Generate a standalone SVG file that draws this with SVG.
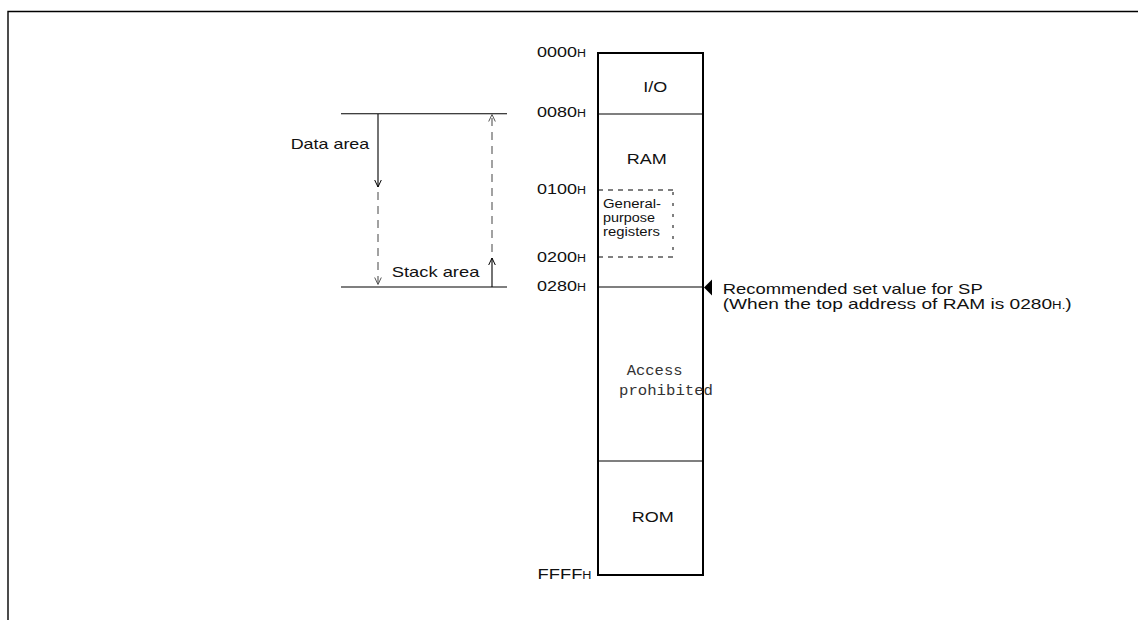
<svg xmlns="http://www.w3.org/2000/svg" width="1138" height="620" viewBox="0 0 1138 620">
<style>
  .t { font-family: "Liberation Sans", Arial, sans-serif; font-size: 14.5px; fill: #111; }
  .s { font-size: 10px; }
  .g { font-family: "Liberation Sans", Arial, sans-serif; font-size: 12px; fill: #111; }
  .m { font-family: "Liberation Mono", "Courier New", monospace; font-size: 15.5px; fill: #333; }
  .box { fill: #fff; stroke: #000; stroke-width: 2; }
  .div { stroke: #000; stroke-width: 1.2; fill: none; }
  .thin { stroke: #000; stroke-width: 1.1; fill: none; }
  .dash { stroke: #555; stroke-width: 1.1; fill: none; stroke-dasharray: 8 6; }
  .gdash { stroke: #000; stroke-width: 1; fill: none; stroke-dasharray: 5 5; }
  .gdot { stroke: #000; stroke-width: 1; fill: none; stroke-dasharray: 3 8; }
</style>
<defs>
  <marker id="chev" markerUnits="userSpaceOnUse" markerWidth="12" markerHeight="12" refX="0" refY="0" orient="auto" overflow="visible">
    <path d="M-7,-3.3 L0,0 L-7,3.3" fill="none" stroke="#000" stroke-width="1"/>
  </marker>
  <marker id="chevg" markerUnits="userSpaceOnUse" markerWidth="12" markerHeight="12" refX="0" refY="0" orient="auto" overflow="visible">
    <path d="M-7,-3.3 L0,0 L-7,3.3" fill="none" stroke="#555" stroke-width="1"/>
  </marker>
</defs>
<rect width="1138" height="620" fill="#fff"/>

<g id="frame">
  <path d="M8,620 L8,11.5 L1138,11.5" fill="none" stroke="#000" stroke-width="1.4"/>
</g>

<g id="memory-map">
  <rect class="box" x="598" y="53" width="105" height="522"/>
  <g id="io">
    <text class="t" x="643.3" y="92" textLength="24" lengthAdjust="spacingAndGlyphs">I/O</text>
  </g>
  <line class="div" x1="598" y1="114" x2="703" y2="114"/>
  <g id="ram">
    <text class="t" x="626.7" y="163.5" textLength="40" lengthAdjust="spacingAndGlyphs">RAM</text>
  </g>
  <g id="general-purpose-registers">
    <path class="gdash" d="M598,190 L673,190 M673,257 L598,257"/>
    <path class="gdot" d="M673,192 L673,257"/>
    <text class="g" x="603" y="207.5" textLength="58" lengthAdjust="spacingAndGlyphs">General-</text>
    <text class="g" x="603" y="221.5" textLength="52" lengthAdjust="spacingAndGlyphs">purpose</text>
    <text class="g" x="603" y="235.5" textLength="57" lengthAdjust="spacingAndGlyphs">registers</text>
  </g>
  <line class="div" x1="598" y1="287" x2="703" y2="287"/>
  <g id="access-prohibited">
    <text class="m" x="626.7" y="375">Access</text>
    <text class="m" x="619" y="395" textLength="94" lengthAdjust="spacingAndGlyphs">prohibited</text>
  </g>
  <line class="div" x1="598" y1="461" x2="703" y2="461"/>
  <g id="rom">
    <text class="t" x="631.7" y="521.7" textLength="42" lengthAdjust="spacingAndGlyphs">ROM</text>
  </g>
</g>

<g id="addresses">
  <text class="t" x="537" y="57" textLength="49" lengthAdjust="spacingAndGlyphs">0000<tspan class="s">H</tspan></text>
  <text class="t" x="537" y="117" textLength="49" lengthAdjust="spacingAndGlyphs">0080<tspan class="s">H</tspan></text>
  <text class="t" x="537" y="194" textLength="49" lengthAdjust="spacingAndGlyphs">0100<tspan class="s">H</tspan></text>
  <text class="t" x="537" y="261.5" textLength="49" lengthAdjust="spacingAndGlyphs">0200<tspan class="s">H</tspan></text>
  <text class="t" x="537" y="291" textLength="49" lengthAdjust="spacingAndGlyphs">0280<tspan class="s">H</tspan></text>
  <text class="t" x="537.5" y="578.5" textLength="54" lengthAdjust="spacingAndGlyphs">FFFF<tspan class="s">H</tspan></text>
</g>

<g id="stack-layout">
  <line class="thin" x1="341" y1="113.7" x2="507" y2="113.7"/>
  <line class="thin" x1="341" y1="287" x2="507" y2="287"/>
  <text class="t" x="290.7" y="149.3" textLength="78.6" lengthAdjust="spacingAndGlyphs">Data area</text>
  <text class="t" x="391.7" y="276.7" textLength="87.7" lengthAdjust="spacingAndGlyphs">Stack area</text>
</g>

<g id="connectors">
  <path class="thin" d="M378,114 L378,187" marker-end="url(#chev)"/>
  <path class="dash" d="M378,192 L378,284.5" marker-end="url(#chevg)"/>
  <path class="thin" d="M492,287 L492,258" marker-end="url(#chev)"/>
  <path class="dash" d="M492,252 L492,114.5" marker-end="url(#chevg)"/>
</g>

<g id="sp-pointer">
  <polygon points="704,287.5 712,279.5 712,295.5" fill="#000"/>
  <text class="t" x="722.7" y="293.5" textLength="260" lengthAdjust="spacingAndGlyphs">Recommended set value for SP</text>
  <text class="t" x="722.7" y="308.5" textLength="349" lengthAdjust="spacingAndGlyphs">(When the top address of RAM is 0280<tspan class="s">H.</tspan>)</text>
</g>
</svg>
